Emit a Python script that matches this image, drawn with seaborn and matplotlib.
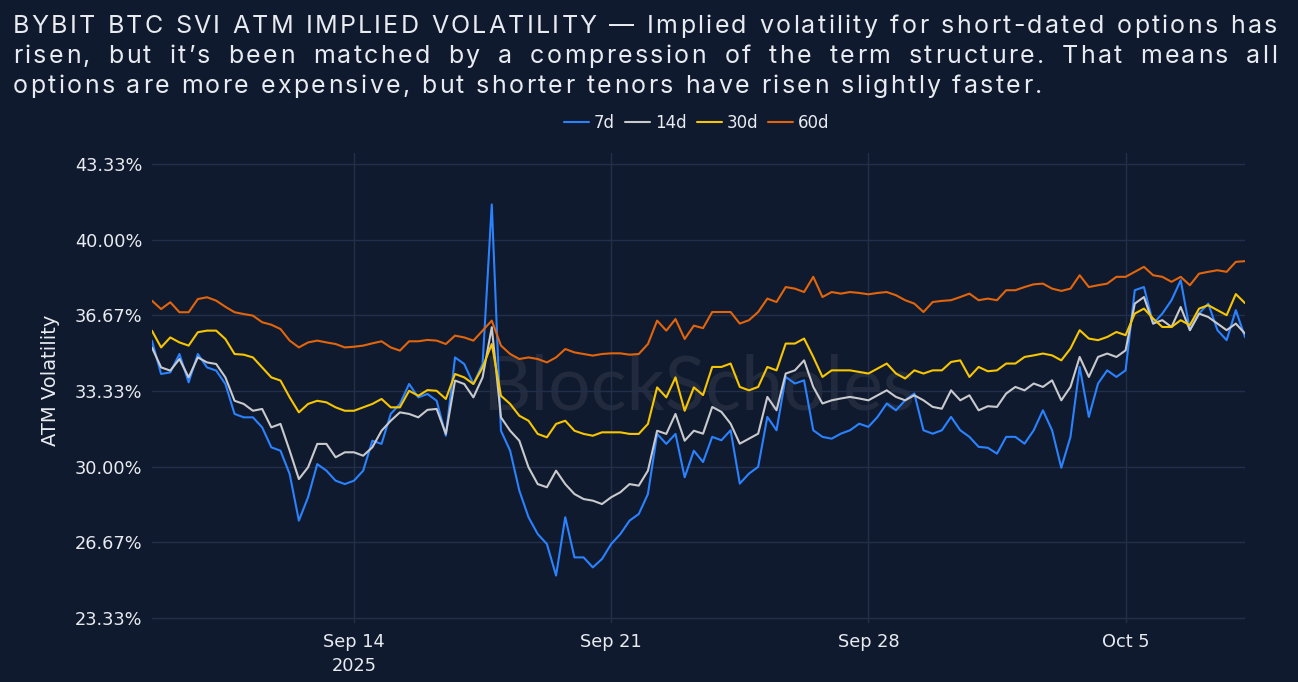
import pandas as pd
import numpy as np
import seaborn as sns
import matplotlib
matplotlib.use("Agg")
import matplotlib.pyplot as plt
from matplotlib import font_manager
from matplotlib.ft2font import FT2Font

# ---- data (ATM implied vol, %, one value every 6 hours from Sep 8 12:00) ----
start = "2025-09-08 12:00"

vol_7d = [35.55, 34.08, 34.15, 34.96, 33.71, 34.96, 34.37, 34.23, 33.64, 32.32,
          32.17, 32.17, 31.73, 30.85, 30.70, 29.67, 27.62, 28.65, 30.11, 29.82,
          29.38, 29.23, 29.38, 29.82, 31.14, 31.00, 32.32, 32.76, 33.64, 33.05,
          33.20, 32.90, 31.36, 34.81, 34.52, 33.64, 34.52, 41.55, 31.58, 30.70,
          28.94, 27.77, 27.03, 26.59, 25.20, 27.77, 26.00, 26.00, 25.56, 25.93,
          26.59, 27.03, 27.62, 27.91, 28.79, 31.44, 31.00, 31.44, 29.53, 30.70,
          30.20, 31.31, 31.16, 31.60, 29.25, 29.69, 29.99, 32.19, 31.60, 33.95,
          33.66, 33.80, 31.60, 31.31, 31.23, 31.45, 31.60, 31.89, 31.75, 32.19,
          32.78, 32.48, 32.92, 33.22, 31.60, 31.45, 31.60, 32.19, 31.60, 31.31,
          30.87, 30.83, 30.57, 31.31, 31.31, 31.01, 31.60, 32.48, 31.60, 29.95,
          31.31, 34.39, 32.19, 33.66, 34.24, 33.95, 34.24, 37.77, 37.91, 36.30,
          36.74, 37.33, 38.21, 36.01, 36.74, 37.18, 36.01, 35.57, 36.89, 35.70]

vol_14d = [35.25, 34.37, 34.23, 34.74, 33.93, 34.81, 34.59, 34.52, 33.93, 32.90,
           32.76, 32.46, 32.54, 31.73, 31.88, 30.70, 29.45, 29.97, 31.00, 31.00,
           30.41, 30.63, 30.63, 30.48, 30.85, 31.58, 32.02, 32.39, 32.32, 32.17,
           32.50, 32.54, 31.44, 33.79, 33.64, 33.05, 33.93, 36.14, 32.17, 31.58,
           31.14, 29.97, 29.23, 29.09, 29.82, 29.23, 28.79, 28.57, 28.50, 28.35,
           28.65, 28.87, 29.23, 29.16, 29.82, 31.58, 31.44, 32.32, 31.14, 31.58,
           31.45, 32.63, 32.41, 31.89, 31.01, 31.23, 31.45, 33.07, 32.48, 34.10,
           34.24, 34.68, 33.51, 32.78, 32.92, 33.00, 33.07, 33.00, 32.92, 33.14,
           33.36, 33.07, 32.92, 33.14, 32.92, 32.63, 32.55, 33.36, 32.92, 33.14,
           32.48, 32.66, 32.63, 33.22, 33.51, 33.36, 33.66, 33.51, 33.80, 32.92,
           33.51, 34.83, 33.95, 34.83, 34.98, 34.83, 35.12, 37.18, 37.47, 36.30,
           36.45, 36.15, 37.03, 36.01, 36.74, 36.59, 36.30, 36.01, 36.30, 35.86]

vol_30d = [35.99, 35.25, 35.69, 35.47, 35.33, 35.92, 35.99, 35.99, 35.62, 34.96,
           34.93, 34.81, 34.37, 33.93, 33.79, 33.05, 32.39, 32.76, 32.90, 32.83,
           32.61, 32.46, 32.46, 32.61, 32.76, 32.98, 32.61, 32.61, 33.34, 33.12,
           33.37, 33.34, 32.98, 34.08, 33.93, 33.64, 34.37, 35.40, 33.12, 32.76,
           32.24, 32.02, 31.44, 31.29, 31.88, 32.02, 31.58, 31.44, 31.36, 31.51,
           31.51, 31.51, 31.44, 31.44, 31.88, 33.49, 33.05, 33.93, 32.46, 33.49,
           33.15, 34.39, 34.39, 34.54, 33.51, 33.36, 33.51, 34.39, 34.24, 35.42,
           35.42, 35.64, 34.83, 33.95, 34.24, 34.24, 34.24, 34.17, 34.10, 34.32,
           34.54, 34.10, 33.88, 34.24, 34.10, 34.24, 34.24, 34.61, 34.68, 33.95,
           34.39, 34.20, 34.24, 34.54, 34.54, 34.83, 34.90, 34.98, 34.90, 34.68,
           35.20, 36.01, 35.64, 35.57, 35.71, 35.93, 35.79, 36.74, 36.96, 36.52,
           36.15, 36.15, 36.45, 36.23, 36.96, 37.11, 36.89, 36.67, 37.60, 37.20]

vol_60d = [37.31, 36.94, 37.24, 36.80, 36.80, 37.38, 37.46, 37.31, 37.04, 36.80,
           36.72, 36.65, 36.36, 36.25, 36.06, 35.55, 35.25, 35.47, 35.55, 35.47,
           35.40, 35.25, 35.28, 35.33, 35.43, 35.52, 35.25, 35.11, 35.52, 35.52,
           35.58, 35.55, 35.40, 35.77, 35.69, 35.55, 35.99, 36.43, 35.33, 34.96,
           34.74, 34.81, 34.74, 34.59, 34.81, 35.18, 35.03, 34.96, 34.89, 34.96,
           34.99, 34.99, 34.93, 34.96, 35.40, 36.43, 35.99, 36.50, 35.62, 36.21,
           36.10, 36.81, 36.81, 36.81, 36.30, 36.45, 36.81, 37.40, 37.25, 37.91,
           37.84, 37.69, 38.36, 37.47, 37.69, 37.62, 37.69, 37.65, 37.59, 37.65,
           37.69, 37.55, 37.33, 37.18, 36.81, 37.25, 37.30, 37.33, 37.47, 37.62,
           37.33, 37.40, 37.33, 37.77, 37.77, 37.91, 38.03, 38.06, 37.84, 37.74,
           37.84, 38.43, 37.91, 37.99, 38.06, 38.36, 38.36, 38.58, 38.80, 38.43,
           38.36, 38.14, 38.36, 37.99, 38.50, 38.58, 38.65, 38.58, 39.02, 39.05]

tenors = ["7d", "14d", "30d", "60d"]
colors = {"7d": "#2a82ff", "14d": "#c9cacd", "30d": "#f7c600", "60d": "#e2650c"}
y_ticks = [70 / 3, 80 / 3, 90 / 3, 100 / 3, 110 / 3, 120 / 3, 130 / 3]
x_tick_dates = ["2025-09-14", "2025-09-21", "2025-09-28", "2025-10-05"]
x_tick_labels = ["Sep 14\n2025", "Sep 21", "Sep 28", "Oct 5"]

title_lines = [
    "BYBIT BTC SVI ATM IMPLIED VOLATILITY \u2014 Implied volatility for short-dated options has",
    "risen, but it\u2019s been matched by a compression of the term structure. That means all",
    "options are more expensive, but shorter tenors have risen slightly faster.",
]

times = pd.date_range(start, periods=len(vol_7d), freq="6h")
df = pd.concat([
    pd.DataFrame({"time": times, "vol": v, "tenor": t})
    for t, v in zip(tenors, [vol_7d, vol_14d, vol_30d, vol_60d])
])

BG = "#101a2e"
GRID = "#222f4b"
FG = "#e8ebf0"

sns.set_theme(style="dark", rc={
    "figure.facecolor": BG, "axes.facecolor": BG, "axes.edgecolor": BG,
    "axes.grid": True, "grid.color": GRID, "grid.linewidth": 1.0,
    "xtick.color": FG, "ytick.color": FG, "text.color": FG,
})
plt.rcParams["font.family"] = ["DejaVu Sans"]

W, H = 1298, 682
fig = plt.figure(figsize=(W / 100, H / 100), dpi=100)
ax = fig.add_axes([151.9 / W, 1 - 623 / H, (1245 - 151.9) / W, (623 - 153) / H])

# faint watermark
ax.text(0.5, 0.5, "BlockScholes", transform=ax.transAxes, ha="center", va="center",
        fontsize=54, color="#222b3e", family="Lato", zorder=0.5)

sns.lineplot(data=df, x="time", y="vol", hue="tenor", hue_order=tenors,
             palette=colors, linewidth=1.5, ax=ax, zorder=2)

ax.set_xlim(times[0], times[-1])
ax.set_ylim(23.11, 43.815)
ax.set_yticks(y_ticks)
ax.set_yticklabels([f"{v:.2f}%" for v in y_ticks])
ax.set_xticks(pd.to_datetime(x_tick_dates))
ax.set_xticklabels(x_tick_labels, linespacing=1.45)
ax.tick_params(axis="both", length=0, labelsize=12.8)
ax.tick_params(axis="y", pad=7)
ax.tick_params(axis="x", pad=7)
ax.set_xlabel("")
ax.set_ylabel("")
for s in ax.spines.values():
    s.set_visible(False)

fig.text(50 / W, 1 - 380 / H, "ATM Volatility", rotation=90, ha="center",
         va="center", fontsize=14, color=FG)

handles, labels = ax.get_legend_handles_labels()
ax.legend(handles, labels, loc="center", bbox_to_anchor=(697 / W, 1 - 123 / H),
          bbox_transform=fig.transFigure, ncol=4, frameon=False, fontsize=12,
          handlelength=1.5, handletextpad=0.3, columnspacing=0.6, labelcolor=FG)

# ---- justified, letter-spaced title ----
tsize = 18
tfont = "Inter"
fpath = font_manager.findfont(font_manager.FontProperties(family=tfont))
ft = FT2Font(fpath)
ft.set_size(tsize, 100)


def adv(c):
    return ft.load_char(ord(c)).linearHoriAdvance / 65536


left, right = 13, 1277
last_w = 1029
nat = sum(adv(c) for c in title_lines[2])
track = (last_w - nat) / (len(title_lines[2]) - 1)
baselines = [33, 63, 93]

for i, line in enumerate(title_lines):
    words = line.split(" ")
    wwid = [sum(adv(c) for c in w) + track * (len(w) - 1) for w in words]
    if i < 2:
        gap = (right - left - sum(wwid)) / (len(words) - 1)
    else:
        gap = adv(" ") + 2 * track
    x = left
    for w, ww in zip(words, wwid):
        cx = x
        for c in w:
            fig.text(cx / W, 1 - baselines[i] / H, c, fontsize=tsize, family=tfont,
                     color=FG, ha="left", va="baseline")
            cx += adv(c) + track
        x += ww + gap

fig.savefig("out.png", dpi=100, facecolor=BG)
